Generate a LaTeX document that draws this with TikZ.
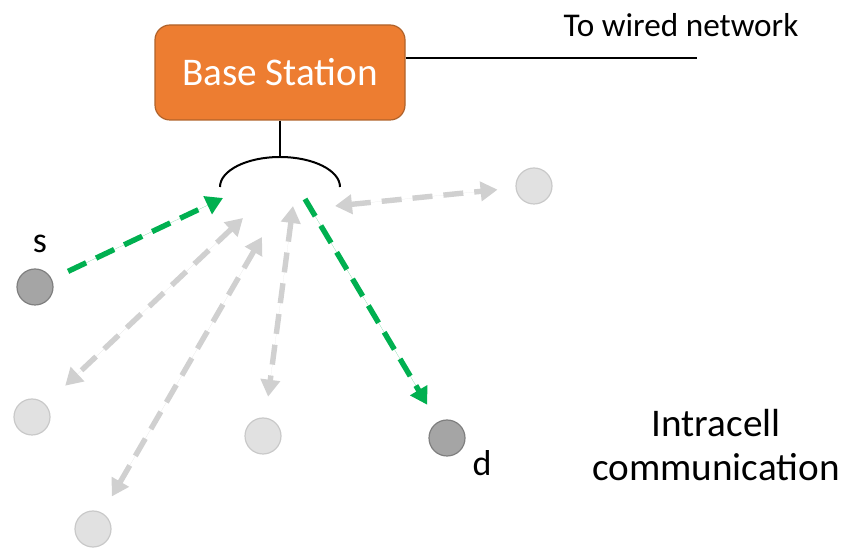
\documentclass[tikz,border=0pt]{standalone}
\usepackage{fontspec}
\setmainfont{Carlito}
\usetikzlibrary{arrows.meta}
\usetikzlibrary{calc}
\usetikzlibrary{positioning}

\definecolor{bsorange}{HTML}{ED7D31}
\definecolor{bsedge}{HTML}{B0622A}
\definecolor{linkgreen}{HTML}{00B050}
\definecolor{linkgray}{HTML}{D0D0D0}
\definecolor{nodedark}{HTML}{A5A5A5}
\definecolor{nodedarkedge}{HTML}{7F7F7F}
\definecolor{nodelight}{HTML}{E1E1E1}
\definecolor{nodelightedge}{HTML}{C9C9C9}

\begin{document}
\begin{tikzpicture}[x=0.5pt,y=-0.5pt,
  station/.style={rectangle, rounded corners=7.5pt, fill=bsorange, draw=bsedge,
    line width=0.6pt, minimum width=125pt, minimum height=47.5pt, text=white,
    font=\fontsize{19.6}{23}\selectfont},
  user/.style={circle, minimum size=18pt, inner sep=0pt, fill=nodelight,
    draw=nodelightedge, line width=0.6pt},
  active/.style={user, fill=nodedark, draw=nodedarkedge},
  link/.style={line width=2.7pt, dash pattern=on 10pt off 5.5pt,
    >={Triangle[length=8.5pt,width=9.5pt]}},
  greenlink/.style={link, draw=linkgreen, fill=linkgreen},
  graylink/.style={link, draw=linkgray, fill=linkgray},
  wireline/.style={line width=1pt, black},
  labeltext/.style={font=\fontsize{18}{21}\selectfont, anchor=base}]
\useasboundingbox (0,0) rectangle (846,560);

% base station and antenna
\node[station] (bs) at (280,72.5) {Base Station};
\coordinate (wire) at (697,58);
\coordinate (ant) at (280,157);
\draw[wireline] (bs.east |- wire) -- (wire);
\node[font=\fontsize{16.6}{19}\selectfont, anchor=base] (wiretext) at (681,37) {To wired network};
\draw[wireline] (bs.south) -- (ant);
\draw[wireline] (220,187) arc[start angle=180, end angle=0, x radius=30pt, y radius=15pt];

% users
\node[active] (s) at (35,287) {};
\node[active] (d) at (447,438) {};
\node[user] (u1) at (534,186) {};
\node[user] (u2) at (32,417) {};
\node[user] (u3) at (93,529) {};
\node[user] (u4) at (263,436) {};

% link ends at the antenna
\coordinate (in) at (223,198);
\coordinate (out) at (305,199);
\coordinate (a1) at (335,206);
\coordinate (a2) at (243,218);
\coordinate (a3) at (262,237);
\coordinate (a4) at (293,206);

% links
\draw[graylink,<->,shorten >=9pt] (a1) -- (u1);
\draw[graylink,<->,shorten >=13.5pt] (a2) -- (u2);
\draw[graylink,<->,shorten >=9.5pt] (a3) -- (u3);
\draw[graylink,<->,shorten >=10.5pt] (a4) -- (u4);
\draw[greenlink,->,shorten <=9pt] (s) -- (in);
\draw[greenlink,->,shorten >=10pt] (out) -- (d);

% labels
\node[labeltext] (slabel) at (40,253) {s};
\node[labeltext] (dlabel) at (482,476) {d};
\node[align=center, font=\fontsize{19.6}{22}\selectfont] (caption) at (716,445) {Intracell\\communication};
\end{tikzpicture}
\end{document}
